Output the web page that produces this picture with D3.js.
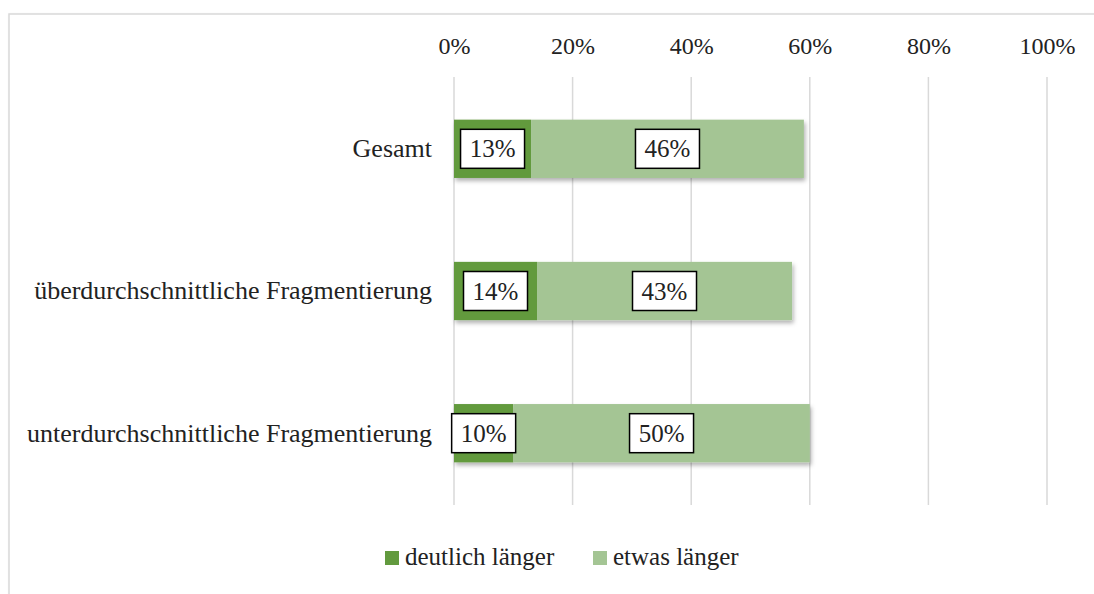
<!DOCTYPE html>
<html>
<head>
<meta charset="utf-8">
<script src="https://cdn.jsdelivr.net/npm/d3@7"></script>
<style>
  html, body { margin: 0; padding: 0; background: #fff; }
  svg { display: block; font-family: "Liberation Serif", "DejaVu Serif", serif; }
</style>
</head>
<body>
<svg id="chart" width="1094" height="594"></svg>
<script>
// Categories (top to bottom) and stacked values in percent
const categories = [
  "Gesamt",
  "überdurchschnittliche Fragmentierung",
  "unterdurchschnittliche Fragmentierung"
];
const deutlichLaenger = [13, 14, 10];
const etwasLaenger = [46, 43, 50];
const seriesNames = ["deutlich länger", "etwas länger"];
const seriesColors = ["#629a3e", "#a4c594"];
const tickValues = [0, 20, 40, 60, 80, 100];

const svg = d3.select("#chart");

// Shadow for the bars
const defs = svg.append("defs");
const shadow = defs.append("filter").attr("id", "barShadow")
  .attr("x", "-5%").attr("y", "-20%").attr("width", "115%").attr("height", "150%");
shadow.append("feDropShadow")
  .attr("dx", 1.5).attr("dy", 3).attr("stdDeviation", 2)
  .attr("flood-color", "#000").attr("flood-opacity", 0.3);

const frameShadow = defs.append("filter").attr("id", "frameShadow")
  .attr("x", "-2%").attr("y", "-2%").attr("width", "104%").attr("height", "104%");
frameShadow.append("feDropShadow")
  .attr("dx", 1).attr("dy", 1).attr("stdDeviation", 1)
  .attr("flood-color", "#000").attr("flood-opacity", 0.15);

// Chart frame
svg.append("rect")
  .attr("x", 9).attr("y", 14)
  .attr("width", 1200).attr("height", 700)
  .attr("fill", "#fff")
  .attr("stroke", "#d9d9d9").attr("stroke-width", 1.5)
  .attr("filter", "url(#frameShadow)");

const x = d3.scaleLinear().domain([0, 100]).range([454, 1047]);
const y = d3.scaleBand().domain(categories).range([77, 505]).paddingInner(0.59).paddingOuter(0.3);

// Vertical gridlines
svg.append("g")
  .selectAll("line")
  .data(tickValues)
  .join("line")
  .attr("x1", d => x(d)).attr("x2", d => x(d))
  .attr("y1", 77).attr("y2", 505)
  .attr("stroke", "#d9d9d9").attr("stroke-width", 1.5);

// Top axis labels
const axisTop = d3.axisTop(x).tickValues(tickValues).tickFormat(d => d + "%").tickSize(0).tickPadding(0);
const axisG = svg.append("g").attr("transform", "translate(0,54)").call(axisTop);
axisG.select(".domain").remove();
axisG.selectAll("text")
  .attr("font-family", "Liberation Serif, serif")
  .attr("font-size", 24).attr("fill", "#222").attr("dy", 0);

// Category labels
const yAxis = d3.axisLeft(y).tickSize(0).tickPadding(22);
const yG = svg.append("g").attr("transform", `translate(${x(0)},0)`).call(yAxis);
yG.select(".domain").remove();
yG.selectAll("text")
  .attr("font-family", "Liberation Serif, serif")
  .attr("font-size", 26).attr("fill", "#222").attr("dy", "0.32em");

// Stacked data
const rows = categories.map((c, i) => ({ cat: c, a: deutlichLaenger[i], b: etwasLaenger[i] }));
const stack = d3.stack().keys(["a", "b"])(rows);

const barsG = svg.append("g").attr("filter", "url(#barShadow)");
stack.forEach((layer, li) => {
  barsG.append("g")
    .selectAll("rect")
    .data(layer)
    .join("rect")
    .attr("x", d => x(d[0]))
    .attr("width", d => x(d[1]) - x(d[0]))
    .attr("y", d => y(d.data.cat))
    .attr("height", y.bandwidth())
    .attr("fill", seriesColors[li]);
});

// Value labels in boxes
const labelsG = svg.append("g");
stack.forEach((layer, li) => {
  layer.forEach(d => {
    const cx = (x(d[0]) + x(d[1])) / 2;
    const cy = y(d.data.cat) + y.bandwidth() / 2;
    const val = d[1] - d[0];
    const g = labelsG.append("g").attr("transform", `translate(${cx},${cy})`);
    g.append("rect")
      .attr("x", -32).attr("y", -19.5)
      .attr("width", 64).attr("height", 39)
      .attr("fill", "#fff").attr("stroke", "#000").attr("stroke-width", 1.5);
    g.append("text")
      .attr("text-anchor", "middle").attr("dy", "0.34em")
      .attr("font-size", 25).attr("fill", "#222")
      .text(val + "%");
  });
});

// Legend
const legend = svg.append("g");
const legendItems = [
  { name: seriesNames[0], color: seriesColors[0], x: 385 },
  { name: seriesNames[1], color: seriesColors[1], x: 593 }
];
legendItems.forEach(it => {
  legend.append("rect")
    .attr("x", it.x).attr("y", 551).attr("width", 14).attr("height", 14)
    .attr("fill", it.color);
  legend.append("text")
    .attr("x", it.x + 20).attr("y", 565)
    .attr("font-size", 25).attr("fill", "#222")
    .text(it.name);
});
</script>
</body>
</html>
